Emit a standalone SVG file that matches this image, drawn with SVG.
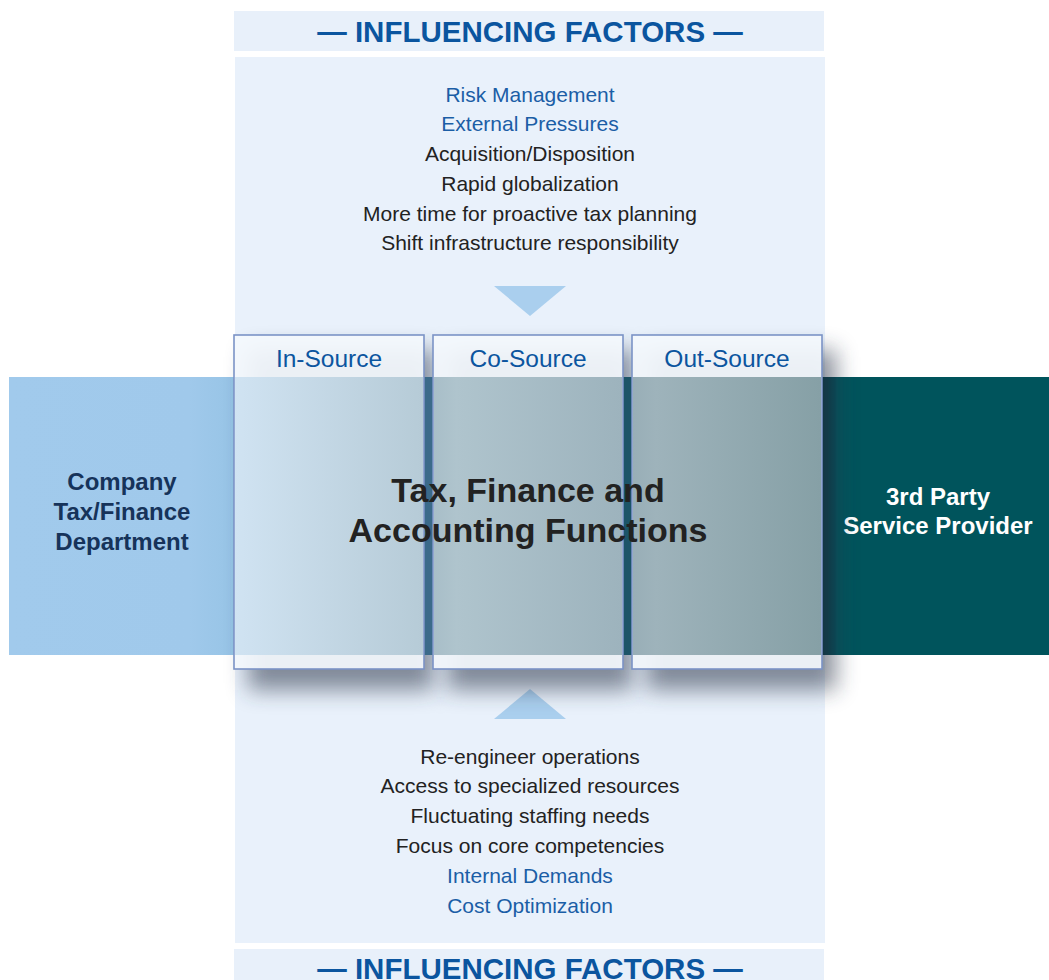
<svg xmlns="http://www.w3.org/2000/svg" width="1049" height="980" viewBox="0 0 1049 980">
<style>
.hdr{font-family:"Liberation Sans",Arial,sans-serif;font-weight:bold;font-size:29.5px;fill:#0b559f;text-anchor:middle}
.item{font-family:"Liberation Sans",Arial,sans-serif;font-size:21px;text-anchor:middle}
.blue{fill:#1b5ea6}
.dark{fill:#222222}
.ttl{font-family:"Liberation Sans",Arial,sans-serif;font-size:24.5px;fill:#0b559f;text-anchor:middle}
.box{fill:#f4f8fd;fill-opacity:0.92;stroke:#7b93c6;stroke-width:1.6}
.lbl{font-family:"Liberation Sans",Arial,sans-serif;font-weight:bold;font-size:24px;text-anchor:middle}
.center{font-family:"Liberation Sans",Arial,sans-serif;font-weight:bold;font-size:34px;fill:#222222;text-anchor:middle}
.tri{fill:#aacfee}
</style>
<defs>
<linearGradient id="gIn" x1="0" y1="0" x2="1" y2="0"><stop offset="0" stop-color="#d0e3f2"/><stop offset="1" stop-color="#b6cbd7"/></linearGradient>
<linearGradient id="gCo" x1="0" y1="0" x2="1" y2="0"><stop offset="0" stop-color="#a8bec8"/><stop offset="0.12" stop-color="#afc4cd"/><stop offset="1" stop-color="#9db3bd"/></linearGradient>
<linearGradient id="gOut" x1="0" y1="0" x2="1" y2="0"><stop offset="0" stop-color="#98aeb7"/><stop offset="0.12" stop-color="#9eb3bb"/><stop offset="1" stop-color="#86a0a6"/></linearGradient>
<linearGradient id="gLeft" x1="0" y1="0" x2="1" y2="0"><stop offset="0" stop-color="#a1caec"/><stop offset="0.8" stop-color="#a0c9eb"/><stop offset="1" stop-color="#97c4e6"/></linearGradient>
<linearGradient id="gStripe" x1="0" y1="0" x2="1" y2="0"><stop offset="0" stop-color="#00353e"/><stop offset="1" stop-color="#004e58"/></linearGradient>
<filter id="blur" x="-30%" y="-30%" width="160%" height="160%"><feGaussianBlur stdDeviation="11"/></filter>
</defs>

<g id="header-top">
<rect x="234" y="11" width="590" height="40" fill="#e8f0fa"/>
<text class="hdr" x="530" y="42">— INFLUENCING FACTORS —</text>
</g>

<g id="panel">
<rect x="235" y="57" width="590" height="886" fill="#e9f1fb"/>
</g>

<g id="factors-top">
<text class="item blue" x="530" y="102">Risk Management</text>
<text class="item blue" x="530" y="131">External Pressures</text>
<text class="item dark" x="530" y="161">Acquisition/Disposition</text>
<text class="item dark" x="530" y="191">Rapid globalization</text>
<text class="item dark" x="530" y="221">More time for proactive tax planning</text>
<text class="item dark" x="530" y="250">Shift infrastructure responsibility</text>
</g>

<g id="connectors">
<polygon class="tri" points="494,286 566,286 530,316"/>
<polygon class="tri" points="494,719 566,719 530,689"/>
</g>

<g id="company">
<rect x="9" y="377" width="225" height="278" fill="url(#gLeft)"/>
<text class="lbl" fill="#16335a" x="122" y="490">Company</text>
<text class="lbl" fill="#16335a" x="122" y="520">Tax/Finance</text>
<text class="lbl" fill="#16335a" x="122" y="550">Department</text>
</g>

<g id="provider">
<rect x="822" y="377" width="227" height="278" fill="#00545c"/>
<rect x="822" y="377" width="14" height="278" fill="url(#gStripe)"/>
<text class="lbl" fill="#ffffff" x="938" y="505">3rd Party</text>
<text class="lbl" fill="#ffffff" x="938" y="534">Service Provider</text>
</g>

<g id="shadows" opacity="0.55">
<rect x="248" y="350" width="186" height="340" fill="#2c3548" filter="url(#blur)"/>
<rect x="447" y="350" width="186" height="340" fill="#2c3548" filter="url(#blur)"/>
<rect x="646" y="350" width="190" height="340" fill="#2c3548" filter="url(#blur)"/>
</g>

<g id="gaps">
<rect x="424" y="377" width="9" height="278" fill="#3b6a8a"/>
<rect x="623" y="377" width="9" height="278" fill="#1c5468"/>
</g>

<g id="in-source">
<rect class="box" x="234" y="335" width="190" height="334"/>
<rect x="235" y="377" width="188" height="278" fill="url(#gIn)"/>
<text class="ttl" x="329" y="367">In-Source</text>
</g>

<g id="co-source">
<rect class="box" x="433" y="335" width="190" height="334"/>
<rect x="434" y="377" width="188" height="278" fill="url(#gCo)"/>
<text class="ttl" x="528" y="367">Co-Source</text>
</g>

<g id="out-source">
<rect class="box" x="632" y="335" width="190" height="334"/>
<rect x="633" y="377" width="188" height="278" fill="url(#gOut)"/>
<text class="ttl" x="727" y="367">Out-Source</text>
</g>

<g id="functions">
<text class="center" x="528" y="502">Tax, Finance and</text>
<text class="center" x="528" y="542">Accounting Functions</text>
</g>

<g id="factors-bottom">
<text class="item dark" x="530" y="764">Re-engineer operations</text>
<text class="item dark" x="530" y="793">Access to specialized resources</text>
<text class="item dark" x="530" y="823">Fluctuating staffing needs</text>
<text class="item dark" x="530" y="853">Focus on core competencies</text>
<text class="item blue" x="530" y="883">Internal Demands</text>
<text class="item blue" x="530" y="913">Cost Optimization</text>
</g>

<g id="header-bottom">
<rect x="234" y="949" width="590" height="40" fill="#e8f0fa"/>
<text class="hdr" x="530" y="979">— INFLUENCING FACTORS —</text>
</g>
</svg>
